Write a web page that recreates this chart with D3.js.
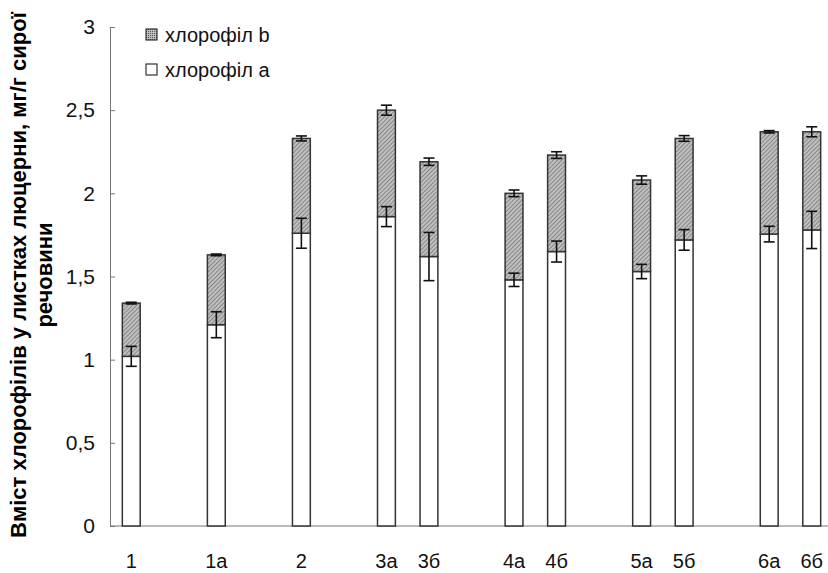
<!DOCTYPE html>
<html>
<head>
<meta charset="utf-8">
<script src="https://cdn.jsdelivr.net/npm/d3@7"></script>
<style>
  body { margin: 0; background: #fff; }
  svg { display: block; font-family: "Liberation Sans", Arial, sans-serif; }
</style>
</head>
<body>
<div id="chart"></div>
<script>
// slots on the x axis, "" = empty gap between groups
const categories = ["1", "", "1а", "", "2", "", "3а", "3б", "", "4а", "4б", "", "5а", "5б", "", "6а", "6б"]
// chlorophyll a (lower part), null for gaps
const chlA = [1.02, null, 1.21, null, 1.76, null, 1.86, 1.62, null, 1.48, 1.65, null, 1.53, 1.72, null, 1.755, 1.78]
// chlorophyll b (upper part, stacked on a)
const chlB = [0.32, null, 0.42, null, 0.57, null, 0.64, 0.57, null, 0.52, 0.58, null, 0.55, 0.61, null, 0.615, 0.59]
// error of chlorophyll a and of the total (a + b)
const errA = [0.06, null, 0.078, null, 0.09, null, 0.06, 0.145, null, 0.04, 0.063, null, 0.043, 0.062, null, 0.047, 0.112]
const errTotal = [0.005, null, 0.005, null, 0.015, null, 0.03, 0.022, null, 0.02, 0.02, null, 0.025, 0.017, null, 0.007, 0.03]
const yTicks = [0, 0.5, 1, 1.5, 2, 2.5, 3]
const legendLabels = ["хлорофіл b", "хлорофіл a"]
const yTitle = ["Вміст хлорофілів у листках люцерни, мг/г сирої", "речовини"]

const width = 828
const height = 573
const margin = {top: 27, right: -5, bottom: 47, left: 110}

const svg = d3.select("#chart")
  .append("svg")
  .attr("width", width)
  .attr("height", height)

// hatch pattern for chlorophyll b
const defs = svg.append("defs")
const pat = defs.append("pattern")
  .attr("id", "hatch")
  .attr("patternUnits", "userSpaceOnUse")
  .attr("width", 3)
  .attr("height", 3)
  .attr("patternTransform", "rotate(45)")
pat.append("rect").attr("width", 3).attr("height", 3).attr("fill", "#c0c0c0")
pat.append("line")
  .attr("x1", 0).attr("y1", 0).attr("x2", 0).attr("y2", 3)
  .attr("stroke", "#5e5e5e").attr("stroke-width", 1.2)

const dots = defs.append("pattern")
  .attr("id", "dots")
  .attr("patternUnits", "userSpaceOnUse")
  .attr("width", 2)
  .attr("height", 2)
dots.append("rect").attr("width", 2).attr("height", 2).attr("fill", "#bdbdbd")
dots.append("rect").attr("width", 1).attr("height", 1).attr("fill", "#555")

const x = d3.scaleBand()
  .domain(d3.range(categories.length))
  .range([margin.left, width - margin.right])
  .padding(0)

const y = d3.scaleLinear()
  .domain([0, 3])
  .range([height - margin.bottom, margin.top])

const barW = x.bandwidth() * 0.42
const cx = i => x(i) + x.bandwidth() / 2

const rows = categories.map((c, i) => ({i, c, a: chlA[i], b: chlB[i], ea: errA[i], et: errTotal[i]}))
  .filter(d => d.a !== null)

// Axes
svg.append("g")
  .attr("transform", "translate(" + margin.left + ",0)")
  .call(d3.axisLeft(y).tickValues(yTicks).tickSizeInner(-5).tickSizeOuter(0).tickPadding(15)
    .tickFormat(d => String(d).replace(".", ",")))
  .call(g => g.selectAll("path, line").attr("stroke", "#777"))
  .call(g => g.selectAll("text").attr("font-size", "21px").attr("fill", "#111")
    .attr("font-family", "Liberation Sans, Arial, sans-serif"))

svg.append("line")
  .attr("x1", margin.left).attr("x2", width)
  .attr("y1", y(0)).attr("y2", y(0))
  .attr("stroke", "#777")

svg.selectAll("text.xlab")
  .data(rows)
  .enter()
  .append("text")
  .attr("class", "xlab")
  .attr("x", d => cx(d.i))
  .attr("y", y(0) + 42)
  .attr("text-anchor", "middle")
  .attr("font-size", "20px")
  .attr("fill", "#111")
  .text(d => d.c)

// Bars: chlorophyll a
svg.selectAll("rect.a")
  .data(rows)
  .enter()
  .append("rect")
  .attr("class", "a")
  .attr("x", d => cx(d.i) - barW / 2)
  .attr("width", barW)
  .attr("y", d => y(d.a))
  .attr("height", d => y(0) - y(d.a))
  .attr("fill", "#fff")
  .attr("stroke", "#333")
  .attr("stroke-width", 1.5)

// Bars: chlorophyll b
svg.selectAll("rect.b")
  .data(rows)
  .enter()
  .append("rect")
  .attr("class", "b")
  .attr("x", d => cx(d.i) - barW / 2)
  .attr("width", barW)
  .attr("y", d => y(d.a + d.b))
  .attr("height", d => y(d.a) - y(d.a + d.b))
  .attr("fill", "url(#hatch)")
  .attr("stroke", "#333")
  .attr("stroke-width", 1.5)

// Error bars
const errs = rows.flatMap(d => [
  {i: d.i, v: d.a, e: d.ea},
  {i: d.i, v: d.a + d.b, e: d.et}
])
const capW = 5.5
const eg = svg.selectAll("g.err")
  .data(errs)
  .enter()
  .append("g")
  .attr("class", "err")
  .attr("stroke", "#111")
  .attr("stroke-width", 1.6)
eg.append("line")
  .attr("x1", d => cx(d.i)).attr("x2", d => cx(d.i))
  .attr("y1", d => y(d.v + d.e)).attr("y2", d => y(d.v - d.e))
eg.append("line")
  .attr("x1", d => cx(d.i) - capW).attr("x2", d => cx(d.i) + capW)
  .attr("y1", d => y(d.v + d.e)).attr("y2", d => y(d.v + d.e))
eg.append("line")
  .attr("x1", d => cx(d.i) - capW).attr("x2", d => cx(d.i) + capW)
  .attr("y1", d => y(d.v - d.e)).attr("y2", d => y(d.v - d.e))

// Legend
const leg = svg.selectAll("g.legend")
  .data(legendLabels)
  .enter()
  .append("g")
  .attr("class", "legend")
  .attr("transform", (d, i) => "translate(146," + (29 + i * 35) + ")")
leg.append("rect")
  .attr("width", 11).attr("height", 11)
  .attr("fill", (d, i) => i === 0 ? "url(#dots)" : "#fff")
  .attr("stroke", "#333")
  .attr("stroke-width", 1.2)
leg.append("text")
  .attr("x", 19)
  .attr("y", 13)
  .attr("font-size", "20px")
  .attr("fill", "#111")
  .text(d => d)

// Y title
svg.append("g")
  .attr("transform", "translate(0," + 275 + ") rotate(-90)")
  .selectAll("text")
  .data(yTitle)
  .enter()
  .append("text")
  .attr("x", 0)
  .attr("y", (d, i) => 26 + i * 26)
  .attr("text-anchor", "middle")
  .attr("font-size", "22px")
  .attr("font-weight", "bold")
  .attr("fill", "#000")
  .text(d => d)
</script>
</body>
</html>
